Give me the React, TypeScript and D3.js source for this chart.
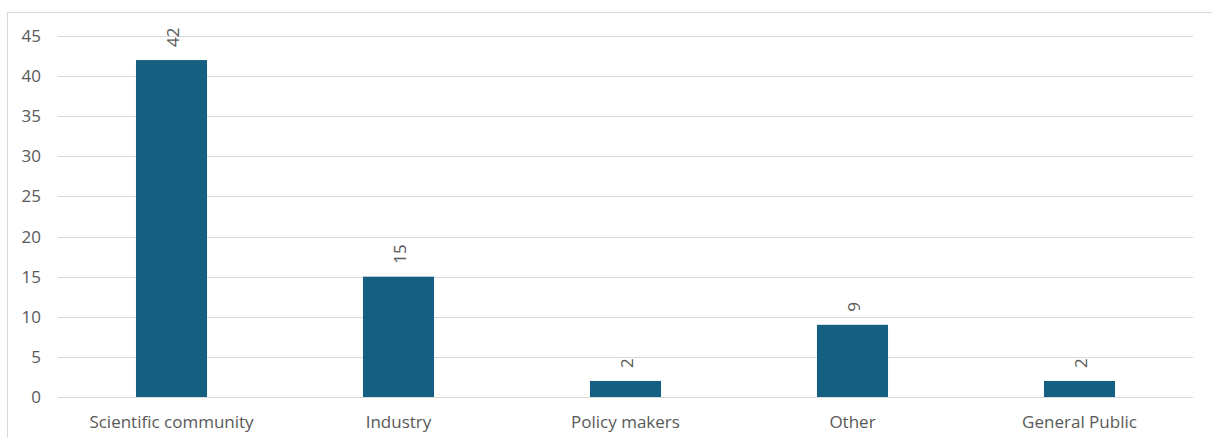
import React from "react";
import * as d3 from "d3";

const categories = ["Scientific community", "Industry", "Policy makers", "Other", "General Public"];
const values = [42, 15, 2, 9, 2];
const yTicks = [0, 5, 10, 15, 20, 25, 30, 35, 40, 45];

const W = 1212;
const H = 438;
const left = 58;
const right = 1193;
const top = 36;
const bottom = 397;
const FONT = "'Open Sans', 'Liberation Sans', Arial, sans-serif";
const TEXT = "#595959";
const FS = 17;

export default function App() {
  const x = d3.scaleBand<string>().domain(categories).range([left, right]).paddingInner(0.687).paddingOuter(0.3435);
  const y = d3.scaleLinear().domain([0, 45]).range([bottom, top]);
  return (
    <svg width={W} height={H} style={{ position: "fixed", left: 0, top: 0, background: "#fff" }}>
      <rect x={7.5} y={12.5} width={W} height={H} fill="#fff" stroke="#d9d9d9" strokeWidth={1} />
      {yTicks.map((t) => (
        <g key={t}>
          <line x1={left} x2={right} y1={Math.round(y(t)) + 0.5} y2={Math.round(y(t)) + 0.5} stroke="#d9d9d9" strokeWidth={1} />
          <text x={41} y={y(t)} dy="0.35em" textAnchor="end" fontFamily={FONT} fontSize={FS} fill={TEXT}>{t}</text>
        </g>
      ))}
      {categories.map((c, i) => {
        const bx = x(c)!;
        const bw = x.bandwidth();
        const cx = bx + bw / 2;
        return (
          <g key={c}>
            <rect x={bx} y={y(values[i])} width={bw} height={y(0) - y(values[i])} fill="#156082" />
            <text transform={`translate(${cx + 7.5},${y(values[i]) - 13}) rotate(-90)`} textAnchor="start" fontFamily={FONT} fontSize={FS} fill={TEXT}>{values[i]}</text>
            <text x={cx} y={428} textAnchor="middle" fontFamily={FONT} fontSize={FS} fill={TEXT}>{c}</text>
          </g>
        );
      })}
    </svg>
  );
}
